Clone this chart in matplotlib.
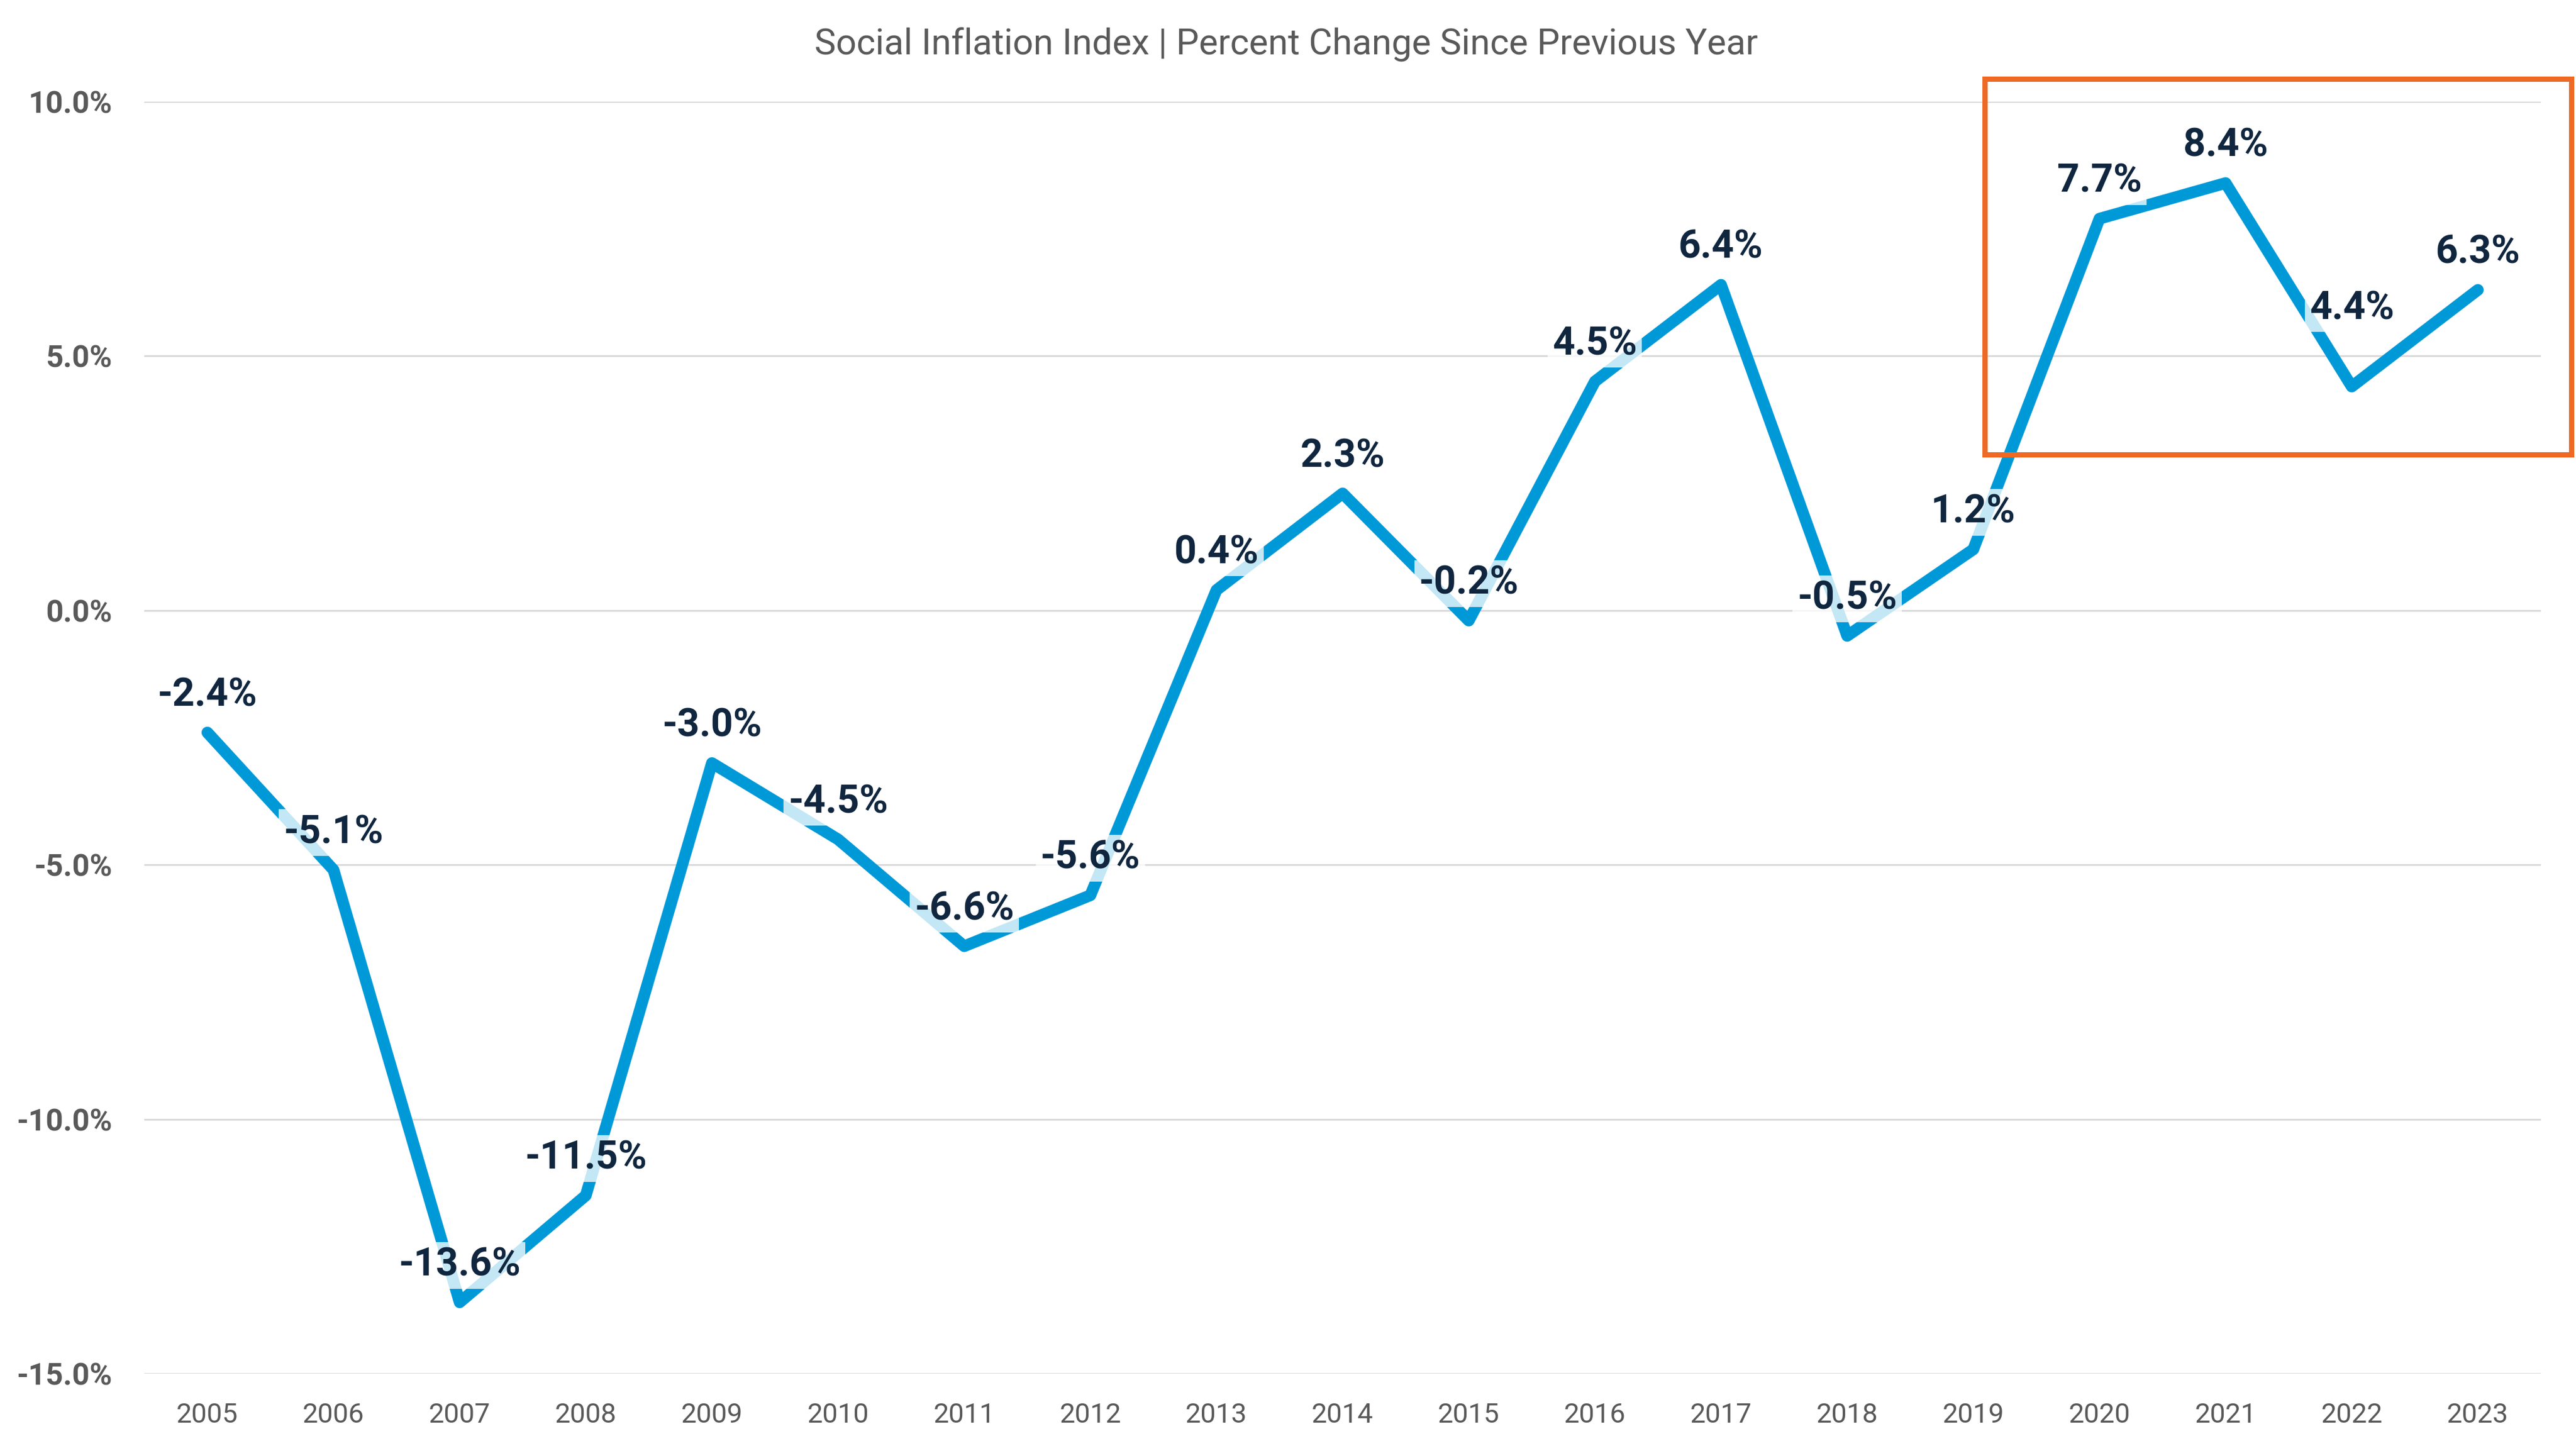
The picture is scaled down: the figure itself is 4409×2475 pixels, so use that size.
import matplotlib
matplotlib.use("Agg")
import matplotlib.pyplot as plt
from matplotlib.patches import Rectangle
import numpy as np

years = ["2005", "2006", "2007", "2008", "2009", "2010", "2011", "2012", "2013", "2014",
         "2015", "2016", "2017", "2018", "2019", "2020", "2021", "2022", "2023"]
values = [-2.4, -5.1, -13.6, -11.5, -3.0, -4.5, -6.6, -5.6, 0.4, 2.3,
          -0.2, 4.5, 6.4, -0.5, 1.2, 7.7, 8.4, 4.4, 6.3]
y_ticks = [-15.0, -10.0, -5.0, 0.0, 5.0, 10.0]
title = "Social Inflation Index | Percent Change Since Previous Year"

W, H, DPI = 4409, 2475, 300
fig = plt.figure(figsize=(W / DPI, H / DPI), dpi=DPI)
fig.patch.set_facecolor("white")

left, right = 247 / W, 4349 / W
bottom, top = 1 - 2351 / H, 1 - 174 / H
ax = fig.add_axes([left, bottom, right - left, top - bottom])

LINE = "#0099D8"
GRID = "#D9D9D9"
TICK = "#595959"
LABEL = "#10263F"

x = np.arange(len(years))
ax.plot(x, values, color=LINE, lw=20 * 72 / DPI, solid_joinstyle="round",
        solid_capstyle="round", zorder=3)

ax.set_xlim(-0.5, len(years) - 0.5)
ax.set_ylim(-15, 10)
ax.set_yticks(y_ticks)
ax.set_yticklabels([f"{v:.1f}%" for v in y_ticks])
ax.set_xticks(x)
ax.set_xticklabels(years)
ax.grid(axis="y", color=GRID, lw=3 * 72 / DPI, zorder=0)
ax.set_axisbelow(True)
for s in ax.spines.values():
    s.set_visible(False)
ax.tick_params(axis="both", length=0)
ax.tick_params(axis="y", pad=55 * 72 / DPI)
ax.tick_params(axis="x", pad=49 * 72 / DPI)
for t in ax.get_yticklabels():
    t.set_fontfamily("Roboto")
    t.set_fontweight("bold")
    t.set_fontsize(12.5)
    t.set_color(TICK)
for t in ax.get_xticklabels():
    t.set_fontfamily("Roboto")
    t.set_fontsize(11.3)
    t.set_color(TICK)

# label offsets in pixels above the point (one label was lifted manually)
extra_px = {"2022": 139 - 69}
for yr, xi, v in zip(years, x, values):
    off = (69 + extra_px.get(yr, 0) - 23.5) * 72 / DPI
    ax.annotate(f"{v:.1f}%", (xi, v), xytext=(0, off), textcoords="offset points",
                ha="center", va="baseline", fontfamily="Roboto", fontweight="bold",
                fontsize=16, color=LABEL, zorder=5,
                bbox=dict(boxstyle="square,pad=0.12", fc="white", ec="none", alpha=0.77))

# Highlight box (figure pixel coordinates)
bx0, bx1 = 3396.5 / W, 4400.5 / W
by0, by1 = 1 - 777.5 / H, 1 - 134.5 / H
fig.patches.append(Rectangle((bx0, by0), bx1 - bx0, by1 - by0, transform=fig.transFigure,
                             fill=False, ec="#EE6A24", lw=9 * 72 / DPI, zorder=10))

# Title
tt = fig.text(2201 / W, 1 - 76 / H, title, ha="center", va="center",
              fontfamily="Roboto", fontsize=13.5, color=TICK)
fig.canvas.draw()
w = tt.get_window_extent().width
tt.set_fontsize(13.5 * 1616 / w)

fig.savefig("out.png", dpi=DPI, facecolor="white")
